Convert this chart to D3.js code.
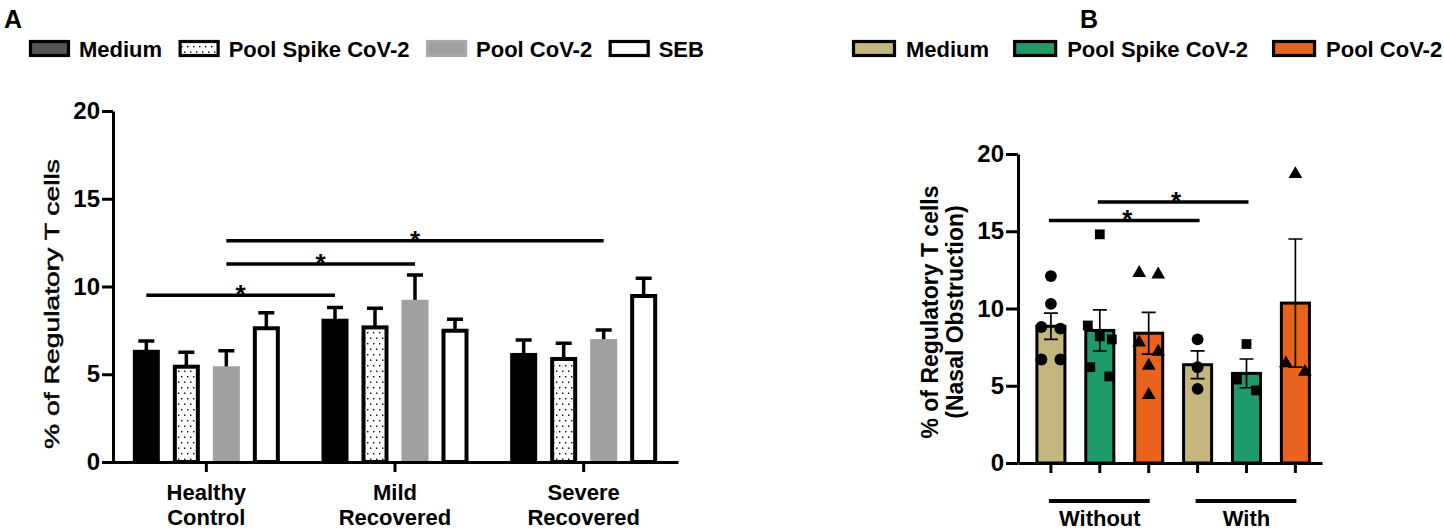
<!DOCTYPE html>
<html>
<head>
<meta charset="utf-8">
<script src="https://cdn.jsdelivr.net/npm/d3@7"></script>
<style>
  body { margin: 0; background: #fff; }
  svg { display: block; font-family: 'Liberation Sans', Arial, Helvetica, sans-serif; }
</style>
</head>
<body>
<svg id="chart" width="1444" height="531"></svg>
<script>
// ---- data: panel A ----
const groupsA = ['Healthy Control', 'Mild Recovered', 'Severe Recovered'];
const groupLinesA = [['Healthy', 'Control'], ['Mild', 'Recovered'], ['Severe', 'Recovered']];
const stimuliA = ['Medium', 'Pool Spike CoV-2', 'Pool CoV-2', 'SEB'];
const meanA = [
  [6.28, 5.43, 5.34, 7.62],
  [8.05, 7.67, 9.13, 7.48],
  [6.10, 5.87, 6.89, 9.46]
];
const semA = [
  [0.61, 0.82, 1.00, 0.89],
  [0.76, 1.09, 1.52, 0.65],
  [0.85, 0.89, 0.63, 1.01]
];
// significance bars: [group, stimulus] -> [group, stimulus] at height y
const sigA = [
  { a: [0, 0], b: [1, 0], y: 9.5 },
  { a: [0, 2], b: [1, 2], y: 11.28 },
  { a: [0, 2], b: [2, 2], y: 12.6 }
];
const ticksY = [0, 5, 10, 15, 20];

// ---- data: panel B ----
const groupsB = ['Without', 'With'];
const stimuliB = ['Medium', 'Pool Spike CoV-2', 'Pool CoV-2'];
const meanB = [
  [8.85, 8.58, 8.40],
  [6.36, 5.80, 10.35]
];
const semB = [
  [0.85, 1.33, 1.35],
  [0.90, 0.93, 4.15]
];
const pointsB = [
  [[12.1, 10.3, 8.8, 8.7, 6.7, 6.7], [14.8, 8.9, 8.2, 8.0, 6.2, 5.6], [12.2, 12.3, 7.8, 7.2, 6.3, 4.4]],
  [[8.0, 6.2, 4.8], [7.7, 5.4, 4.7], [18.7, 6.45, 5.9]]
];
const sigB = [
  { a: [0, 0], b: [1, 0], y: 15.7 },
  { a: [0, 1], b: [1, 1], y: 16.9 }
];

// ---- styles ----
const fillA = ['#000', 'url(#dots)', '#a0a0a0', '#fff'];
const strokeA = ['#000', '#000', '#a0a0a0', '#000'];
const legendFillA = ['#555', 'url(#dots)', '#a0a0a0', '#fff'];
const legendStrokeA = ['#000', '#000', '#a9a9a9', '#000'];
const fillB = ['#c4b77e', '#1f9b69', '#ea631d'];
const shapeB = [d3.symbolCircle, d3.symbolSquare, d3.symbolTriangle];
const shapeSize = [110, 96, 82];
const FONT = "'Liberation Sans', Arial, Helvetica, sans-serif";

const svg = d3.select('#chart');

const defs = svg.append('defs');
const pat = defs.append('pattern')
  .attr('id', 'dots')
  .attr('patternUnits', 'userSpaceOnUse')
  .attr('width', 6)
  .attr('height', 11);
pat.append('rect').attr('width', 6).attr('height', 11).attr('fill', '#fff');
pat.append('rect').attr('x', 1).attr('y', 2).attr('width', 1.4).attr('height', 1.4).attr('fill', '#000');
pat.append('rect').attr('x', 4).attr('y', 7.5).attr('width', 1.4).attr('height', 1.4).attr('fill', '#000');

function styleAxis(g, size) {
  g.attr('font-size', size).attr('font-family', FONT).attr('font-weight', 'bold');
  g.select('.domain').attr('stroke', '#000').attr('stroke-width', 3);
  g.selectAll('.tick line').attr('stroke', '#000').attr('stroke-width', 3);
  g.selectAll('.tick text').attr('fill', '#000');
}

function legend(x0, names, fills, strokes, swW, textGap, gap) {
  let x = x0;
  names.forEach((n, i) => {
    svg.append('rect')
      .attr('x', x + 1.5).attr('y', 41.5)
      .attr('width', swW - 3).attr('height', 14)
      .attr('fill', fills[i])
      .attr('stroke', strokes[i])
      .attr('stroke-width', 3.2);
    const t = svg.append('text')
      .attr('x', x + swW + textGap).attr('y', 57)
      .attr('font-size', 22).attr('font-weight', 'bold')
      .attr('font-family', FONT)
      .text(n);
    x += swW + textGap + t.node().getComputedTextLength() + gap;
  });
}

// beeswarm-ish horizontal offsets for points with close values
function jitter(vals, thr) {
  const idx = vals.map((v, i) => i).sort((a, b) => vals[b] - vals[a]);
  const off = vals.map(() => 0);
  let group = [idx[0]];
  const flush = () => {
    const n = group.length;
    const sp = n > 1 ? Math.min(19, 24 / (n - 1)) : 0;
    group.forEach((k, j) => { off[k] = (j - (n - 1) / 2) * sp; });
  };
  for (let i = 1; i < idx.length; i++) {
    if (vals[idx[i - 1]] - vals[idx[i]] < thr) group.push(idx[i]);
    else { flush(); group = [idx[i]]; }
  }
  flush();
  return off;
}

function star(x, y) {
  svg.append('text')
    .attr('x', x).attr('y', y + 8)
    .attr('text-anchor', 'middle')
    .attr('font-size', 26).attr('font-weight', 'bold')
    .attr('font-family', FONT)
    .text('*');
}

// ================= PANEL A =================
svg.append('text').attr('x', 4).attr('y', 28)
  .attr('font-size', 25).attr('font-weight', 'bold').attr('font-family', FONT)
  .text('A');

legend(29, stimuliA, legendFillA, legendStrokeA, 41, 9, 16.5);

const yA = d3.scaleLinear().domain([0, 20]).range([462, 111]);
const xA = d3.scaleBand().domain(groupsA).range([112, 678]);
const xAin = d3.scaleBand().domain(stimuliA).range([-80, 80])
  .paddingInner(0.425).paddingOuter(0.2125);
const cxA = (gi, si) => xA(groupsA[gi]) + xA.bandwidth() / 2 + xAin(stimuliA[si]) + xAin.bandwidth() / 2;

const barsA = [];
meanA.forEach((row, gi) => row.forEach((m, si) => barsA.push({ gi, si, m, s: semA[gi][si] })));

const gA = svg.append('g');

// error bars (upward only)
gA.selectAll('.errA')
  .data(barsA)
  .enter()
  .append('path')
  .attr('class', 'errA')
  .attr('fill', 'none')
  .attr('stroke', '#000')
  .attr('stroke-width', 3.5)
  .attr('d', d => {
    const cx = cxA(d.gi, d.si);
    return `M${cx},${yA(d.m)}V${yA(d.m + d.s)}M${cx - 8},${yA(d.m + d.s)}H${cx + 8}`;
  });

gA.selectAll('.barA')
  .data(barsA)
  .enter()
  .append('rect')
  .attr('class', 'barA')
  .attr('x', d => cxA(d.gi, d.si) - xAin.bandwidth() / 2)
  .attr('y', d => yA(d.m))
  .attr('width', xAin.bandwidth())
  .attr('height', d => yA(0) - yA(d.m))
  .attr('fill', d => fillA[d.si])
  .attr('stroke', d => strokeA[d.si])
  .attr('stroke-width', 4);

svg.append('g')
  .attr('transform', 'translate(113,0)')
  .call(d3.axisLeft(yA).tickValues(ticksY).tickSize(11).tickSizeOuter(0).tickPadding(2))
  .call(g => styleAxis(g, 24));

svg.append('g')
  .attr('transform', `translate(0,${yA(0)})`)
  .call(d3.axisBottom(xA).tickSize(10).tickSizeOuter(0).tickFormat(''))
  .call(g => styleAxis(g, 22));

groupLinesA.forEach((lines, gi) => {
  const t = svg.append('text')
    .attr('text-anchor', 'middle')
    .attr('font-size', 22).attr('font-weight', 'bold')
    .attr('font-family', FONT);
  lines.forEach((l, li) => {
    t.append('tspan')
      .attr('x', xA(groupsA[gi]) + xA.bandwidth() / 2)
      .attr('y', 500 + li * 25)
      .text(l);
  });
});

sigA.forEach(s => {
  const x1 = cxA(s.a[0], s.a[1]);
  const x2 = cxA(s.b[0], s.b[1]);
  svg.append('line')
    .attr('x1', x1).attr('x2', x2)
    .attr('y1', yA(s.y)).attr('y2', yA(s.y))
    .attr('stroke', '#000').attr('stroke-width', 3.5);
  star((x1 + x2) / 2, yA(s.y));
});

svg.append('text')
  .attr('transform', 'translate(59,304) rotate(-90)')
  .attr('text-anchor', 'middle')
  .attr('font-size', 21)
  .attr('font-family', FONT)
  .attr('stroke', '#000')
  .attr('stroke-width', 0.5)
  .attr('textLength', 290)
  .attr('lengthAdjust', 'spacingAndGlyphs')
  .text('% of Regulatory T cells');

// ================= PANEL B =================
svg.append('text').attr('x', 1080).attr('y', 28)
  .attr('font-size', 25).attr('font-weight', 'bold').attr('font-family', FONT)
  .text('B');

legend(852, stimuliB, fillB, ['#000', '#000', '#000'], 44, 10, 24);

const yB = d3.scaleLinear().domain([0, 20]).range([463, 154]);
const keysB = d3.range(groupsB.length * stimuliB.length);
const xB = d3.scaleBand().domain(keysB).range([1018, 1322])
  .paddingInner(0.427).paddingOuter(0.322).align(0.6);
const cxB = (gi, si) => xB(gi * stimuliB.length + si) + xB.bandwidth() / 2;

const barsB = [];
meanB.forEach((row, gi) => row.forEach((m, si) =>
  barsB.push({ gi, si, m, s: semB[gi][si], pts: pointsB[gi][si] })));

const gB = svg.append('g');

gB.selectAll('.barB')
  .data(barsB)
  .enter()
  .append('rect')
  .attr('class', 'barB')
  .attr('x', d => cxB(d.gi, d.si) - xB.bandwidth() / 2)
  .attr('y', d => yB(d.m))
  .attr('width', xB.bandwidth())
  .attr('height', d => yB(0) - yB(d.m))
  .attr('fill', d => fillB[d.si])
  .attr('stroke', '#000')
  .attr('stroke-width', 3);

gB.selectAll('.errB')
  .data(barsB)
  .enter()
  .append('path')
  .attr('class', 'errB')
  .attr('fill', 'none')
  .attr('stroke', '#000')
  .attr('stroke-width', 1.7)
  .attr('d', d => {
    const cx = cxB(d.gi, d.si);
    const lo = yB(d.m - d.s), hi = yB(d.m + d.s);
    return `M${cx},${lo}V${hi}M${cx - 7},${hi}H${cx + 7}M${cx - 7},${lo}H${cx + 7}`;
  });

barsB.forEach(d => {
  const off = jitter(d.pts, 0.75);
  gB.selectAll(null)
    .data(d.pts)
    .enter()
    .append('path')
    .attr('d', d3.symbol().type(shapeB[d.si]).size(shapeSize[d.si]))
    .attr('transform', (v, i) => `translate(${cxB(d.gi, d.si) + off[i]},${yB(v)})`)
    .attr('fill', '#000');
});

svg.append('g')
  .attr('transform', 'translate(1018,0)')
  .call(d3.axisLeft(yB).tickValues(ticksY).tickSize(12).tickSizeOuter(0).tickPadding(2))
  .call(g => styleAxis(g, 24));

svg.append('g')
  .attr('transform', `translate(0,${yB(0)})`)
  .call(d3.axisBottom(xB).tickSize(10).tickSizeOuter(0).tickFormat(''))
  .call(g => styleAxis(g, 22));

groupsB.forEach((name, gi) => {
  const x1 = cxB(gi, 0);
  const x2 = cxB(gi, stimuliB.length - 1);
  svg.append('line')
    .attr('x1', x1 - 2).attr('x2', x2 + 1)
    .attr('y1', 501).attr('y2', 501)
    .attr('stroke', '#000').attr('stroke-width', 4);
  svg.append('text')
    .attr('x', (x1 + x2) / 2).attr('y', 526)
    .attr('text-anchor', 'middle')
    .attr('font-size', 22).attr('font-weight', 'bold')
    .attr('font-family', FONT)
    .text(name);
});

sigB.forEach(s => {
  const x1 = cxB(s.a[0], s.a[1]);
  const x2 = cxB(s.b[0], s.b[1]);
  svg.append('line')
    .attr('x1', x1 - 2).attr('x2', x2 + 2)
    .attr('y1', yB(s.y)).attr('y2', yB(s.y))
    .attr('stroke', '#000').attr('stroke-width', 3.5);
  star((x1 + x2) / 2 + 3, yB(s.y));
});

const yLabelB = svg.append('text')
  .attr('transform', 'translate(938,312) rotate(-90)')
  .attr('text-anchor', 'middle')
  .attr('font-size', 23).attr('font-weight', 'bold')
  .attr('font-family', FONT);
yLabelB.append('tspan').attr('x', 0).attr('y', 0).text('% of Regulatory T cells');
yLabelB.append('tspan').attr('x', 0).attr('y', 25).text('(Nasal Obstruction)');
</script>
</body>
</html>
